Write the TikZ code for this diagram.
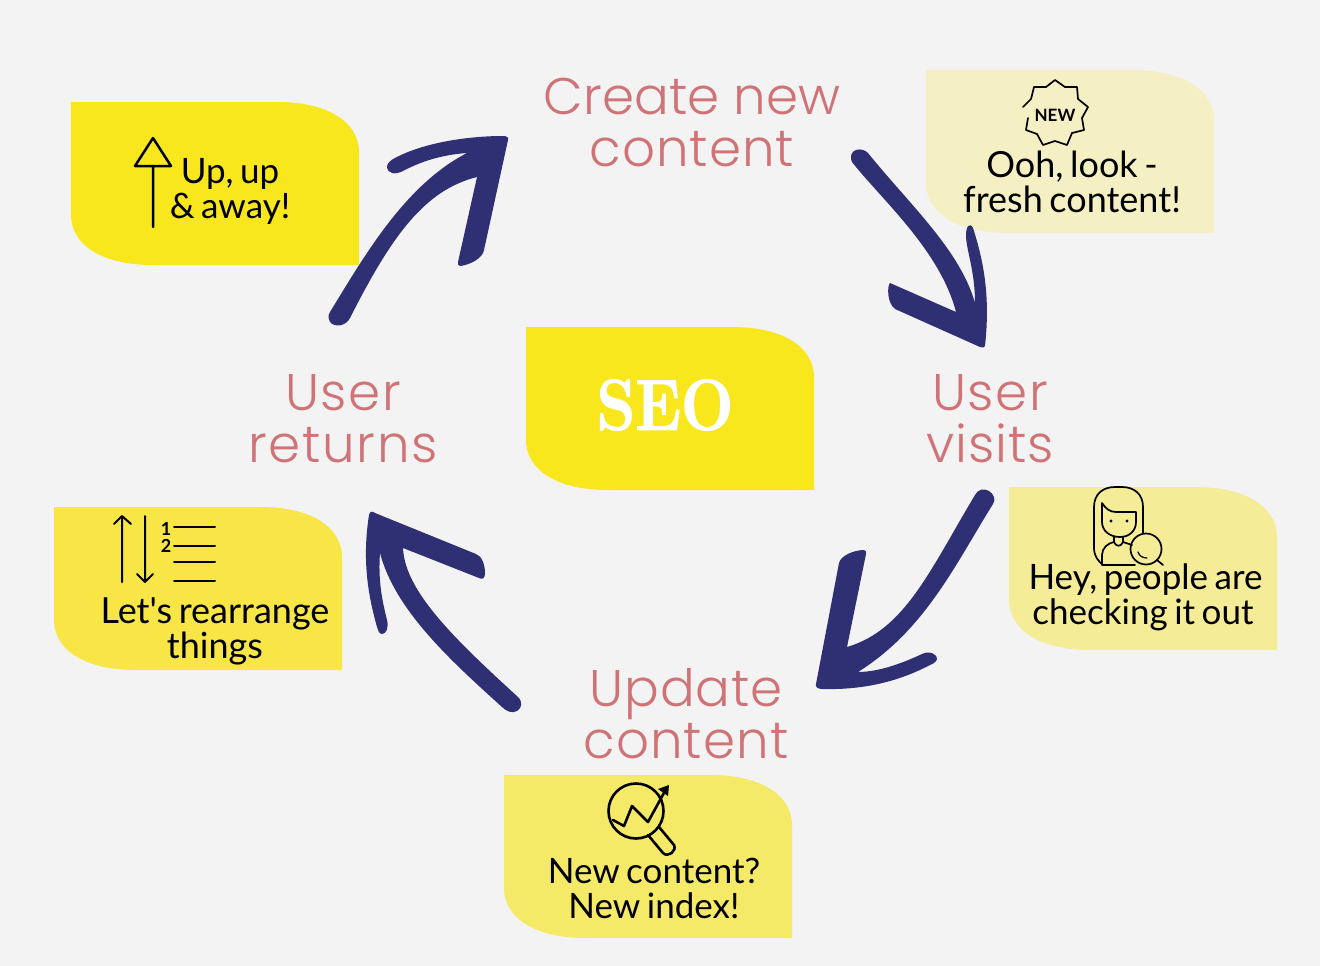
\documentclass[tikz,border=0pt]{standalone}
\usepackage{fontspec}
\newfontfamily\labfont{Poppins Light}
\newfontfamily\bodyfont{Lato}[WordSpace=0.72]
\newfontfamily\seofont{Latin Modern Roman}[FakeStretch=0.86,BoldFeatures={FakeBold=1.6}]
\newcommand{\ls}[2]{{\addfontfeature{LetterSpace=#1}#2}}
\definecolor{bgc}{HTML}{F3F3F3}
\definecolor{navy}{HTML}{2F2F74}
\definecolor{rosec}{HTML}{D07376}
\definecolor{ya}{HTML}{F9E71E}
\definecolor{yb}{HTML}{F4F0C4}
\definecolor{yc}{HTML}{F4EC96}
\definecolor{yd}{HTML}{F5E968}
\definecolor{ye}{HTML}{F7E646}
\tikzset{
  steplabel/.style={text=rosec,align=center,inner sep=0pt,font=\labfont\fontsize{51.5}{52}\selectfont},
  note/.style={text=black,align=center,inner sep=0pt,font=\bodyfont\fontsize{35}{35}\selectfont},
  notewide/.style={note,font=\bodyfont\fontsize{36}{35}\selectfont},
  brush/.style={fill=navy,draw=none},
  ico/.style={draw=black,line width=2pt,line cap=round,line join=round},
  icothin/.style={draw=black,line width=1.7pt,line cap=round,line join=round},
}
\newcommand{\blob}[6]{%
  \fill[#6,shift={(#2,#3)}] (0,0) -- (#4-82,0) .. controls (#4-28,0) and (#4,22) .. (#4,50)
    -- (#4,#5) -- (82,#5) .. controls (28,#5) and (0,#5-22) .. (0,#5-50) -- cycle;
  \coordinate (#1) at (#2+#4/2,#3+#5/2);
}
\begin{document}
\begin{tikzpicture}[x=1pt,y=-1pt]
\fill[bgc] (0,0) rectangle (1320,966);
\useasboundingbox (0,0) rectangle (1320,966);
% boxes
\blob{bup}{71}{102}{288}{163}{ya}
\blob{bseo}{526}{327}{288}{163}{ya}
\blob{bnew}{926}{70}{288}{163}{yb}
\blob{bhey}{1009}{487}{268}{163}{yc}
\blob{bidx}{504}{775}{288}{163}{yd}
\blob{bsort}{54}{507}{288}{163}{ye}
% labels
\node[steplabel] (create) at (692,123) {Create new\\\ls{2}{content}};
\node[steplabel] (visits) at (990,419) {\ls{3}{User}\\\ls{2}{visits}};
\node[steplabel] (returns) at (343,419) {\ls{3}{User}\\\ls{3.3}{returns}};
\node[steplabel] (update) at (686,713.5) {\ls{1.4}{Update}\\\ls{2}{content}};
\node[text=white,inner sep=0pt,font=\seofont\bfseries\fontsize{72}{72}\selectfont] (seo) at (665,405) {SEO};
% notes
\node[note] (tup) at (230,191) {Up, up\\\& away!};
\node[notewide] (tnew) at (1072,182) {Ooh, look -\\fresh content!};
\node[note] (they) at (1145.5,597) {Hey, people are\\checking it out\hspace*{5pt}};
\node[note] (tidx) at (654,888) {New content?\\New index!};
\node[notewide] (tsort) at (215,631) {Let's rearrange\\things};
% arrows (brush shapes)
\fill[brush] (330,312) .. controls (365,255) and (405,185) .. (467,153)
  .. controls (440,155) and (420,162) .. (403,171)
  .. controls (395,175) and (388,174) .. (387,167)
  .. controls (387,163) and (391,160) .. (395,158)
  .. controls (425,142) and (470,136) .. (503,136)
  .. controls (506,136) and (509,137) .. (508,140)
  -- (484,250) .. controls (483,258) and (470,265) .. (460,266)
  .. controls (458,266) and (458,264) .. (458,262)
  -- (477,177) .. controls (425,190) and (392,235) .. (350,318)
  .. controls (346,326) and (335,328) .. (330,322)
  .. controls (328,318) and (328,315) .. (330,312) -- cycle;
\fill[brush] (852,162) .. controls (880,198) and (940,250) .. (956,312)
  -- (890,283) .. controls (887,286) and (887,303) .. (895,309)
  -- (980,347) .. controls (983,348) and (985,347) .. (985,346)
  .. controls (990,300) and (985,265) .. (973,228)
  .. controls (970,222) and (966,226) .. (966,235)
  .. controls (966,250) and (975,270) .. (975,303)
  .. controls (960,250) and (910,205) .. (868,153)
  .. controls (862,147) and (852,149) .. (851,156)
  .. controls (851,159) and (851,160) .. (852,162) -- cycle;
\fill[brush] (975,495) .. controls (978,489) and (984,488) .. (989,491)
  .. controls (994,494) and (996,500) .. (993,504)
  .. controls (955,565) and (925,630) .. (858,672)
  .. controls (880,672) and (905,662) .. (922,654)
  .. controls (930,650) and (938,655) .. (937,659)
  .. controls (936,663) and (932,664) .. (928,666)
  .. controls (895,683) and (860,690) .. (822,689)
  .. controls (818,689) and (815,687) .. (816,684)
  -- (839,563) .. controls (841,555) and (855,550) .. (864,550)
  .. controls (866,550) and (866,552) .. (866,554)
  -- (847,647) .. controls (905,630) and (930,570) .. (975,495) -- cycle;
\fill[brush] (369,515) .. controls (370,511) and (372,511) .. (375,513)
  -- (476,554) .. controls (482,556) and (485,565) .. (485,573)
  .. controls (485,578) and (483,580) .. (479,578)
  -- (403,548) .. controls (405,590) and (450,635) .. (518,697)
  .. controls (523,702) and (522,708) .. (517,711)
  .. controls (512,714) and (506,711) .. (502,707)
  .. controls (450,660) and (395,610) .. (380,553)
  .. controls (378,580) and (382,600) .. (387,620)
  .. controls (389,628) and (386,634) .. (382,634)
  .. controls (379,634) and (378,630) .. (377,627)
  .. controls (368,595) and (362,560) .. (369,515) -- cycle;
% up arrow icon
\draw[ico,line width=2.5pt] (153,138) -- (135,166) -- (171,166) -- cycle (153,166) -- (153,227);
% NEW badge
\draw[icothin] (1023,107) -- (1031,99) -- (1034,87) -- (1046,87) -- (1055,80) -- (1065,87) -- (1077,87) -- (1078,99) -- (1088,107) -- (1082,118) -- (1084,130) -- (1072,133) -- (1067,145) -- (1055,141) -- (1043,145) -- (1037,134) -- (1026,130) -- (1028,118);
\node[inner sep=0pt,font=\bodyfont\bfseries\fontsize{17}{17}\selectfont] (badge) at (1055,115) {NEW};
% woman icon
\draw[icothin] (1143,533) -- (1143,507) .. controls (1143,494) and (1134,487) .. (1122,487) -- (1115,487) .. controls (1103,487) and (1094,494) .. (1094,507) -- (1094,548) .. controls (1094,556) and (1098,561) .. (1103,565);
\draw[icothin] (1102,503) .. controls (1106,509) and (1110,512) .. (1116,512) -- (1136,512) -- (1136,522) .. controls (1136,531) and (1129,537) .. (1120,537) .. controls (1110,537) and (1102,531) .. (1102,522) -- cycle;
\fill (1111,521) circle (1.6) (1127,521) circle (1.6);
\draw[icothin] (1114,537) -- (1114,542) .. controls (1116,547) and (1121,547) .. (1123,542) -- (1123,537);
\draw[icothin] (1135,565) -- (1102,565) -- (1102,555) .. controls (1102,548) and (1108,543) .. (1114,542) (1123,542) -- (1132,545);
\draw[icothin] (1146,549) circle (15.5) (1157,560) -- (1163,565);
\draw[icothin,line width=1.2pt] (1138,552) .. controls (1139,556) and (1143,558) .. (1147,558);
% chart magnifier
\draw[ico,line width=2.6pt] (636,811) circle (27.5);
\draw[ico,line width=2.6pt] (613,820) -- (624,826) -- (632,806) -- (648,822) -- (665,791);
\fill (669,785) -- (658,789) -- (668,796) -- cycle;
\draw[ico,line width=2.6pt] (659,827) -- (674,845) .. controls (677,851) and (668,858) .. (663,853) -- (648,835);
% sort icon
\draw[ico] (122,582) -- (122,516) (114,524) -- (122,516) -- (131,524);
\draw[ico] (145,516) -- (145,582) (137,574) -- (145,582) -- (153,574);
\draw[ico] (174,527) -- (215,527) (174,546) -- (215,546) (174,562) -- (215,562) (174,581) -- (215,581);
\node[inner sep=0pt,font=\bodyfont\bfseries\fontsize{18}{18}\selectfont] (one) at (166,529) {1};
\node[inner sep=0pt,font=\bodyfont\bfseries\fontsize{18}{18}\selectfont] (two) at (166,546) {2};
\end{tikzpicture}
\end{document}
